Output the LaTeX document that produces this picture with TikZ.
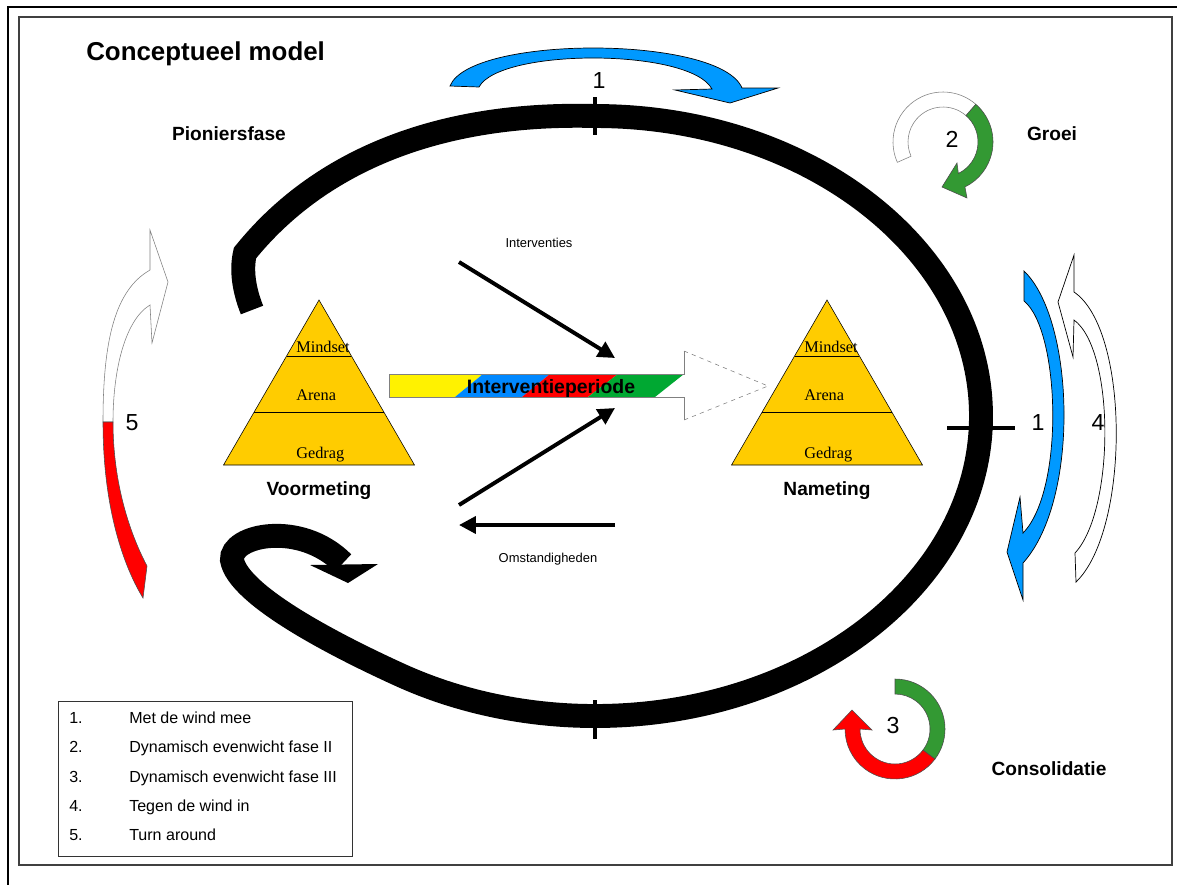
\documentclass[tikz,border=0pt]{standalone}
\usepackage{fontspec}
\setmainfont{Liberation Sans}
\newfontfamily\pyrfont{Liberation Serif}
\usetikzlibrary{arrows.meta,calc}
\definecolor{windblue}{HTML}{0099FF}
\definecolor{gold}{HTML}{FFCC00}
\definecolor{fasegreen}{HTML}{339933}
\definecolor{stripegreen}{HTML}{00A832}
\definecolor{stripeblue}{HTML}{0088FF}
\begin{document}
\begin{tikzpicture}[x=0.025cm, y=-0.025cm,
    phase/.style={font=\fontsize{13.6}{16}\selectfont\bfseries, anchor=base, inner sep=0pt},
    num/.style={font=\fontsize{16.5}{19}\selectfont, anchor=base, inner sep=0pt},
    small/.style={font=\fontsize{9.2}{11}\selectfont, anchor=base, inner sep=0pt},
    leg/.style={font=\fontsize{11.4}{13}\selectfont, anchor=base west, inner sep=0pt},
    pyr/.style={font=\pyrfont\fontsize{11.6}{13}\selectfont, anchor=base west, inner sep=0pt},
    band/.style={draw=black, line width=0.5pt},
    push/.style={line width=2.8pt, -{Triangle[length=12pt,width=12pt]}}]
    \clip (0,0) rectangle (1177,884);
    % frames
    \draw[line width=2.1pt] (8,7) rectangle (1200,900);
    \draw[line width=0.8pt, black!75] (19,17) rectangle (1172,865);
    \node[font=\fontsize{18.4}{22}\selectfont\bfseries, anchor=base west, inner sep=0pt] (title) at (86,60) {Conceptueel model};
    % big cycle
    \draw[line width=17pt] (252,310) .. controls (244,290) and (241,270) .. (245,253)
        .. controls (320,160) and (440,112) .. (595,116)
        arc[start angle=-90, end angle=120, x radius=386, y radius=300]
        .. controls (334,645) and (238,595) .. (232,560)
        .. controls (230,535) and (300,520) .. (343,563);
    \fill (310,565) -- (378,564) -- (348,583) -- cycle;
    \draw[line width=3.5pt] (595,97) -- (595,135);
    \draw[line width=3.5pt] (595,700) -- (595,739);
    \draw[line width=3.5pt] (947,428) -- (1015,428);
    % phases
    \node[phase] (pion) at (229,140) {Pioniersfase};
    \node[phase] (groei) at (1052,140) {Groei};
    \node[phase] (cons) at (1049,775) {Consolidatie};
    % 1: met de wind mee (top)
    \draw[band, fill=windblue] (450,86) .. controls (470,35) and (720,35) .. (742,88)
        -- (778,88) -- (730,103) -- (675,90) -- (712,89)
        .. controls (690,48) and (500,48) .. (479,87) -- cycle;
    \node[num] (n1top) at (599,88) {1};
    % 2: groei
    \draw[draw=gray, fill=white] (943,142) ++(156:50) arc[start angle=156, end angle=311, radius=50]
        -- ($(943,142)+(311:35)$) arc[start angle=311, end angle=156, radius=35] -- cycle;
    \draw[draw=black!70, line width=0.4pt, fill=fasegreen] (943,142) ++(311:50) arc[start angle=311, end angle=424, radius=50]
        -- (967,198) -- (942,187) -- (957,163)
        -- ($(943,142)+(424:35)$) arc[start angle=424, end angle=311, radius=35] -- cycle;
    \node[num] (n2) at (952,147) {2};
    % 3: consolidatie
    \draw[draw=black!70, line width=0.4pt, fill=fasegreen] (895,729) ++(-90:50) arc[start angle=-90, end angle=37, radius=50]
        -- ($(895,729)+(37:35)$) arc[start angle=37, end angle=-90, radius=35] -- cycle;
    \draw[draw=black!70, line width=0.4pt, fill=red] (895,729) ++(37:50) arc[start angle=37, end angle=180, radius=50]
        -- (833,730) -- (852,710) -- (872,730)
        -- ($(895,729)+(180:35)$) arc[start angle=180, end angle=37, radius=35] -- cycle;
    \node[num] (n3) at (893,733) {3};
    % 1 and 4 (right)
    \draw[band, fill=windblue] (1024,271) -- (1024,301) .. controls (1060,330) and (1065,490) .. (1023,533)
        -- (1020,497) -- (1007,552) -- (1023,600) -- (1023,563)
        .. controls (1080,500) and (1075,320) .. (1024,271) -- cycle;
    \draw[band, fill=white] (1074,255) -- (1058,302) -- (1073,357) -- (1074,320)
        .. controls (1115,350) and (1115,510) .. (1075,553) -- (1076,582)
        .. controls (1130,530) and (1130,330) .. (1074,292) -- cycle;
    \node[num] (n1right) at (1038,430) {1};
    \node[num] (n4) at (1098,430) {4};
    % 5: turn around
    \draw[draw=gray, fill=white] (103,422) .. controls (103,340) and (115,290) .. (150,270)
        -- (150,230) -- (168,282) -- (152,343) -- (150,305)
        .. controls (125,320) and (113,370) .. (113,422) -- cycle;
    \draw[draw=black!70, line width=0.4pt, fill=red] (103,422) .. controls (103,500) and (120,560) .. (143,598)
        -- (147,566) .. controls (128,530) and (113,480) .. (113,422) -- cycle;
    \node[num] (n5) at (132,430) {5};
    % pyramids
    \foreach \px/\lbl in {319/Voormeting, 827/Nameting} {
        \draw[fill=gold] (\px,300) -- (\px+95.5,465) -- (\px-95.5,465) -- cycle;
        \draw (\px-32.4,356) -- (\px+32.4,356);
        \draw (\px-64.8,412) -- (\px+64.8,412);
        \node[pyr] (mind\px) at (\px-23,352) {Mindset};
        \node[pyr] (arena\px) at (\px-23,400) {Arena};
        \node[pyr] (gedrag\px) at (\px-23,458) {Gedrag};
        \node[phase] (meet\px) at (\px,495) {\lbl};
    }
    % intervention period
    \foreach \c/\ta/\tb/\ba/\bb in {yellow/389/483/389/455, stripeblue/483/550/455/522, red/550/618/522/588, stripegreen/618/684/588/655}
        \fill[\c] (\ta,374) -- (\tb,374) -- (\bb,397) -- (\ba,397) -- cycle;
    \draw[gray] (684,351) -- (684,374) -- (389,374) -- (389,397) -- (684,397) -- (684,420);
    \draw[gray, dashed] (684,351) -- (768,386) -- (684,420);
    \node[font=\fontsize{13.8}{16}\selectfont\bfseries, anchor=base, inner sep=0pt] (period) at (551,393) {Interventieperiode};
    % influences
    \coordinate (intA) at (459,262);
    \coordinate (intB) at (615,358);
    \coordinate (intC) at (459,505);
    \coordinate (intD) at (615,408);
    \coordinate (omsA) at (615,525);
    \coordinate (omsB) at (459,525);
    \draw[push] (intA) -- (intB);
    \draw[push] (intC) -- (intD);
    \draw[push] (omsA) -- (omsB);
    \node[small] (interv) at (539,247) {Interventies};
    \node[small] (omst) at (548,562) {Omstandigheden};
    % legend
    \draw[black!80] (58,701) rectangle (352,856);
    \foreach \i/\t/\y in {1/Met de wind mee/723, 2/Dynamisch evenwicht fase II/752.5, 3/Dynamisch evenwicht fase III/782, 4/Tegen de wind in/811, 5/Turn around/840} {
        \node[leg] (legn\i) at (69,\y) {\i.};
        \node[leg] (legt\i) at (129,\y) {\t};
    }
\end{tikzpicture}
\end{document}
